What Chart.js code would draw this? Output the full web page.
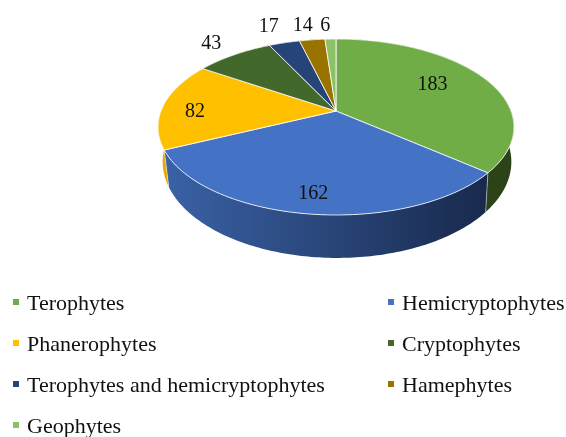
<!DOCTYPE html>
<html>
<head>
<meta charset="utf-8">
<style>html,body{margin:0;padding:0;background:#fff}canvas{display:block;filter:blur(0.35px)}</style>
<script src="https://cdn.jsdelivr.net/npm/chart.js@4"></script>
</head>
<body>
<canvas id="c" width="566" height="437"></canvas>
<script>
const categories = ["Terophytes","Hemicryptophytes","Phanerophytes","Cryptophytes","Terophytes and hemicryptophytes","Hamephytes","Geophytes"];
const values = [183,162,82,43,17,14,6];
const topColors = ["#70AD47","#4472C4","#FFC000","#43682B","#264478","#997300","#8CC168"];
const wallLeft = ["#2C431A","#3A62A6","#E3A900","#2C431A","#1A2E50","#6A5000","#5E8A40"];
const wallRight = ["#2C431A","#18294C","#E3A900","#2C431A","#1A2E50","#6A5000","#5E8A40"];
const labelRadial = [0.68,0.82,0.81,1.27,1.32,1.28,1.26];
const labelNudgeX = [-6,-1,-1,1,-2,-4,-4];
const labelNudgeY = [-3,2,6,2,2,2,2];
const legendCols = [0,1,0,1,0,1,0];
const legendRows = [0,0,1,1,2,2,3];

const VALUE_FONT = '20px "Liberation Serif"';
const LEGEND_FONT = '22px "Liberation Serif"';
const topFace = {dx:0, dy:-16, a:175, b:85.09, k:0.1818};
const baseFace = {dx:1, dy:17.5, a:171.5, b:93, k:0.18};
function project(arc, face, theta, r){
  const u = Math.cos(theta)*r, v = -Math.sin(theta)*r, w = 1+face.k*v;
  return {x: arc.x+face.dx+face.a*u/w, y: arc.y+face.dy-face.b*v/w};
}
function samples(a,b){
  const n = Math.max(2,Math.ceil((b-a)*60)), out=[];
  for(let i=0;i<=n;i++) out.push(a+(b-a)*i/n);
  return out;
}
const pie3d = {
  id:'pie3d',
  beforeDatasetsDraw(chart){
    const ctx = chart.ctx, arcs = chart.getDatasetMeta(0).data;
    ctx.save();
    // side walls
    arcs.forEach((arc,i)=>{
      const t = samples(arc.startAngle,arc.endAngle);
      const top = t.map(x=>project(arc,topFace,x,1));
      const base = t.map(x=>project(arc,baseFace,x,1)).reverse();
      const pts = top.concat(base);
      const xs = pts.map(p=>p.x);
      const g = ctx.createLinearGradient(Math.min(...xs),0,Math.max(...xs),0);
      g.addColorStop(0,wallLeft[i]); g.addColorStop(1,wallRight[i]);
      ctx.beginPath();
      pts.forEach((p,j)=> j?ctx.lineTo(p.x,p.y):ctx.moveTo(p.x,p.y));
      ctx.closePath();
      ctx.fillStyle=g; ctx.fill();
    });
    // seams between walls
    arcs.forEach(arc=>{
      const a = project(arc,topFace,arc.endAngle,1), b = project(arc,baseFace,arc.endAngle,1);
      ctx.beginPath(); ctx.moveTo(a.x,a.y); ctx.lineTo(b.x,b.y);
      ctx.strokeStyle='rgba(255,255,255,0.45)'; ctx.lineWidth=1; ctx.stroke();
    });
    // top faces
    arcs.forEach((arc,i)=>{
      const c = project(arc,topFace,0,0);
      ctx.beginPath(); ctx.moveTo(c.x,c.y);
      samples(arc.startAngle,arc.endAngle).forEach(x=>{
        const p = project(arc,topFace,x,1); ctx.lineTo(p.x,p.y);
      });
      ctx.closePath();
      ctx.fillStyle=topColors[i]; ctx.fill();
      ctx.strokeStyle='rgba(255,255,255,0.8)'; ctx.lineWidth=1; ctx.stroke();
    });
    // value labels
    ctx.font=VALUE_FONT; ctx.fillStyle='#111'; ctx.textAlign='center'; ctx.textBaseline='middle';
    arcs.forEach((arc,i)=>{
      const p = project(arc,topFace,(arc.startAngle+arc.endAngle)/2,labelRadial[i]);
      ctx.fillText(String(values[i]),p.x+labelNudgeX[i],p.y+labelNudgeY[i]);
    });
    ctx.restore();
    return false;
  },
  afterDraw(chart){
    const ctx = chart.ctx, colX=[13,388], markerY=[302,343,384,425], baseY=[310,351,392,433];
    ctx.save();
    ctx.font=LEGEND_FONT; ctx.textAlign='left'; ctx.textBaseline='alphabetic';
    categories.forEach((name,i)=>{
      const x=colX[legendCols[i]], r=legendRows[i];
      ctx.fillStyle=topColors[i]; ctx.fillRect(x,markerY[r]-3,6,6);
      ctx.fillStyle='#111'; ctx.fillText(name,x+14,baseY[r]);
    });
    ctx.restore();
  }
};
new Chart(document.getElementById('c'),{
  type:'pie',
  data:{labels:categories,datasets:[{data:values,backgroundColor:topColors,borderWidth:0}]},
  options:{
    responsive:false,animation:false,
    layout:{padding:{left:158,right:52,top:39,bottom:222}},
    plugins:{legend:{display:false},tooltip:{enabled:false}}
  },
  plugins:[pie3d]
});
</script>
</body>
</html>
